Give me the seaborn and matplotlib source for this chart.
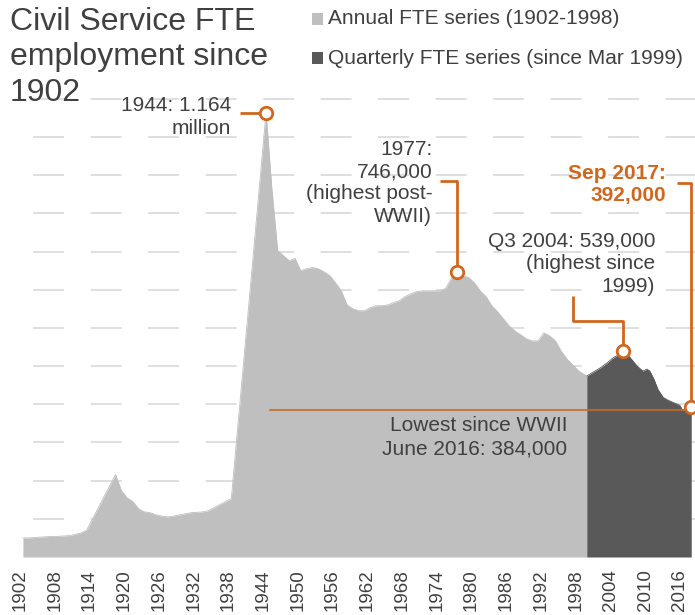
import numpy as np
import pandas as pd
import matplotlib.pyplot as plt
import seaborn as sns
from matplotlib.patches import Rectangle

# Civil Service FTE (thousands)
annual_years = [1902, 1903, 1904, 1905, 1906, 1907, 1908, 1909, 1910, 1911, 1912, 1913,
                1918, 1919, 1920, 1921, 1922, 1923, 1924, 1925, 1926, 1927, 1928, 1929,
                1930, 1931, 1932, 1933, 1934, 1935, 1936, 1937, 1938,
                1944, 1945, 1946, 1947, 1948, 1949, 1950, 1951, 1952, 1953, 1954, 1955,
                1956, 1957, 1958, 1959, 1960, 1961, 1962, 1963, 1964, 1965, 1966, 1967,
                1968, 1969, 1970, 1971, 1972, 1973, 1974, 1975, 1976, 1977, 1978, 1979,
                1980, 1981, 1982, 1983, 1984, 1985, 1986, 1987, 1988, 1989, 1990, 1991,
                1992, 1993, 1994, 1995, 1996, 1997, 1998]
annual_fte = [50, 50, 51, 52, 53, 54, 54, 55, 56, 59, 63, 70,
              216, 174, 155, 145, 126, 118, 116, 110, 107, 105, 107, 110,
              113, 116, 117, 118, 121, 129, 137, 145, 153,
              1164, 965, 803, 789, 776, 782, 750, 755, 758, 755, 747, 737,
              718, 697, 660, 650, 645, 645, 653, 658, 658, 660, 666, 671,
              682, 689, 695, 697, 697, 697, 697, 703, 729, 746, 737, 732,
              718, 697, 682, 658, 642, 624, 605, 592, 582, 571, 566, 566,
              587, 579, 566, 539, 518, 503, 487]

# quarterly series, position on the time axis as drawn
quarter_pos = [1999.9, 2001.0, 2002.2, 2003.4, 2004.4, 2005.3, 2006.2, 2007.0, 2007.9,
               2008.6, 2009.6, 2010.3, 2010.8, 2011.5, 2012.2, 2013.1, 2013.9, 2014.8,
               2016.0, 2016.45, 2017.05, 2017.95]
quarter_fte = [474, 484, 495, 508, 521, 529, 539, 529, 513,
               500, 487, 492, 487, 466, 439, 418, 411, 405,
               397, 384, 390, 392]

tick_years = list(range(1902, 2017, 6))
title_lines = ['Civil Service FTE', 'employment since', '1902']

grey_light = '#BFBFBF'
grey_dark = '#595959'
orange = '#CF671F'
txt = '#404040'

sns.set_theme(style='white')
plt.rcParams['font.family'] = ['Liberation Sans', 'DejaVu Sans']
plt.rcParams['lines.scale_dashes'] = False

fig = plt.figure(figsize=(6.95, 6.15), dpi=100)
ax = fig.add_axes([18 / 695, 58 / 615, 677 / 695, 467 / 615])

# annual points sit mid-year; light area runs on to the first quarterly point
ann_x = [y + 0.5 for y in annual_years] + [quarter_pos[0]]
ann_y = annual_fte + [quarter_fte[0]]
ann = pd.DataFrame({'x': ann_x, 'fte': ann_y})
qtr = pd.DataFrame({'x': quarter_pos, 'fte': quarter_fte})

ax.fill_between(ann['x'], 0, ann['fte'], color=grey_light, lw=0, zorder=2)
sns.lineplot(data=ann, x='x', y='fte', ax=ax, color=grey_light, lw=0.6, zorder=2)
ax.fill_between(qtr['x'], 0, qtr['fte'], color=grey_dark, lw=0, zorder=3)
sns.lineplot(data=qtr, x='x', y='fte', ax=ax, color=grey_dark, lw=0.6, zorder=3)

ax.set_xlim(1901.65, 2018.6)
ax.set_ylim(0, 1223)
ax.set_xticks(tick_years)
ax.set_xticklabels([str(y) for y in tick_years], rotation=90, fontsize=13.5, color=txt)
ax.set_yticks(range(100, 1300, 100))
ax.set_yticklabels([])
ax.tick_params(length=0)
ax.tick_params(axis='x', pad=9)
ax.set_xlabel('')
ax.set_ylabel('')
for s in ax.spines.values():
    s.set_visible(False)
ax.yaxis.grid(True, color='#D9D9D9', lw=1.2, linestyle=(30.5, (22.3, 19.1)), zorder=0)
ax.xaxis.grid(False)
ax.set_axisbelow(True)

# lowest since WWII
low = 384
ax.plot([1945.2, 2018.0], [low, low], color=orange, lw=1.5, alpha=0.8, zorder=4)
ax.text(1996.5, 314, 'Lowest since WWII\nJune 2016: 384,000', ha='right', va='center',
        fontsize=15, color=txt, linespacing=1.3, zorder=5)

ann_kw = dict(color=orange, lw=2, zorder=6, clip_on=False, solid_capstyle='butt')
mk_kw = dict(marker='o', ms=9, mfc='white', mec=orange, mew=2, ls='none', zorder=7, clip_on=False)
sp = 1.22

# 1944 peak
peak_x = 1944.5
ax.plot([1940.0, peak_x], [1164, 1164], **ann_kw)
ax.plot([peak_x], [1164], **mk_kw)
ax.text(1938.5, 1152, '1944: 1.164\nmillion', ha='right', va='center', fontsize=15,
        color=txt, linespacing=sp, clip_on=False)

# 1977 peak
p77 = 1977.5
ax.plot([1974.6, p77, p77], [984, 984, 746], **ann_kw)
ax.plot([p77], [746], **mk_kw)
ax.text(1973.2, 980, '1977:\n746,000\n(highest post-\nWWII)', ha='right', va='center',
        fontsize=15, color=txt, linespacing=sp, clip_on=False)

# Q3 2004 peak
pq = quarter_pos[quarter_fte.index(max(quarter_fte))]
ax.plot([1997.5, 1997.5, pq, pq], [684, 618, 618, 539], **ann_kw)
ax.plot([pq], [539], **mk_kw)
ax.text(2011.7, 768, 'Q3 2004: 539,000\n(highest since\n1999)', ha='right', va='center',
        fontsize=15, color=txt, linespacing=sp, clip_on=False)

# latest value
lx, ly = quarter_pos[-1], quarter_fte[-1]
ax.plot([2015.5, lx, lx], [979, 979, ly], **ann_kw)
ax.plot([lx], [ly], **mk_kw)
ax.text(2013.6, 976, 'Sep 2017:\n392,000', ha='right', va='center', fontsize=15,
        color=orange, fontweight='bold', linespacing=sp, clip_on=False)

# title, one text per line
for i, line in enumerate(title_lines):
    fig.text(10 / 695, 1 - (22 + i * 35.5) / 615, line, ha='left', va='center',
             fontsize=23, color=txt)

# legend
for i, (lab, col) in enumerate([('Annual FTE series (1902-1998)', grey_light),
                                ('Quarterly FTE series (since Mar 1999)', grey_dark)]):
    yc = 19 + i * 39
    fig.patches.append(Rectangle((312 / 695, 1 - (yc + 5.5) / 615), 11 / 695, 11 / 615,
                                 transform=fig.transFigure, color=col, lw=0))
    fig.text(328 / 695, 1 - yc / 615, lab, ha='left', va='center', fontsize=15, color=txt)

fig.savefig('out.png', dpi=100)
